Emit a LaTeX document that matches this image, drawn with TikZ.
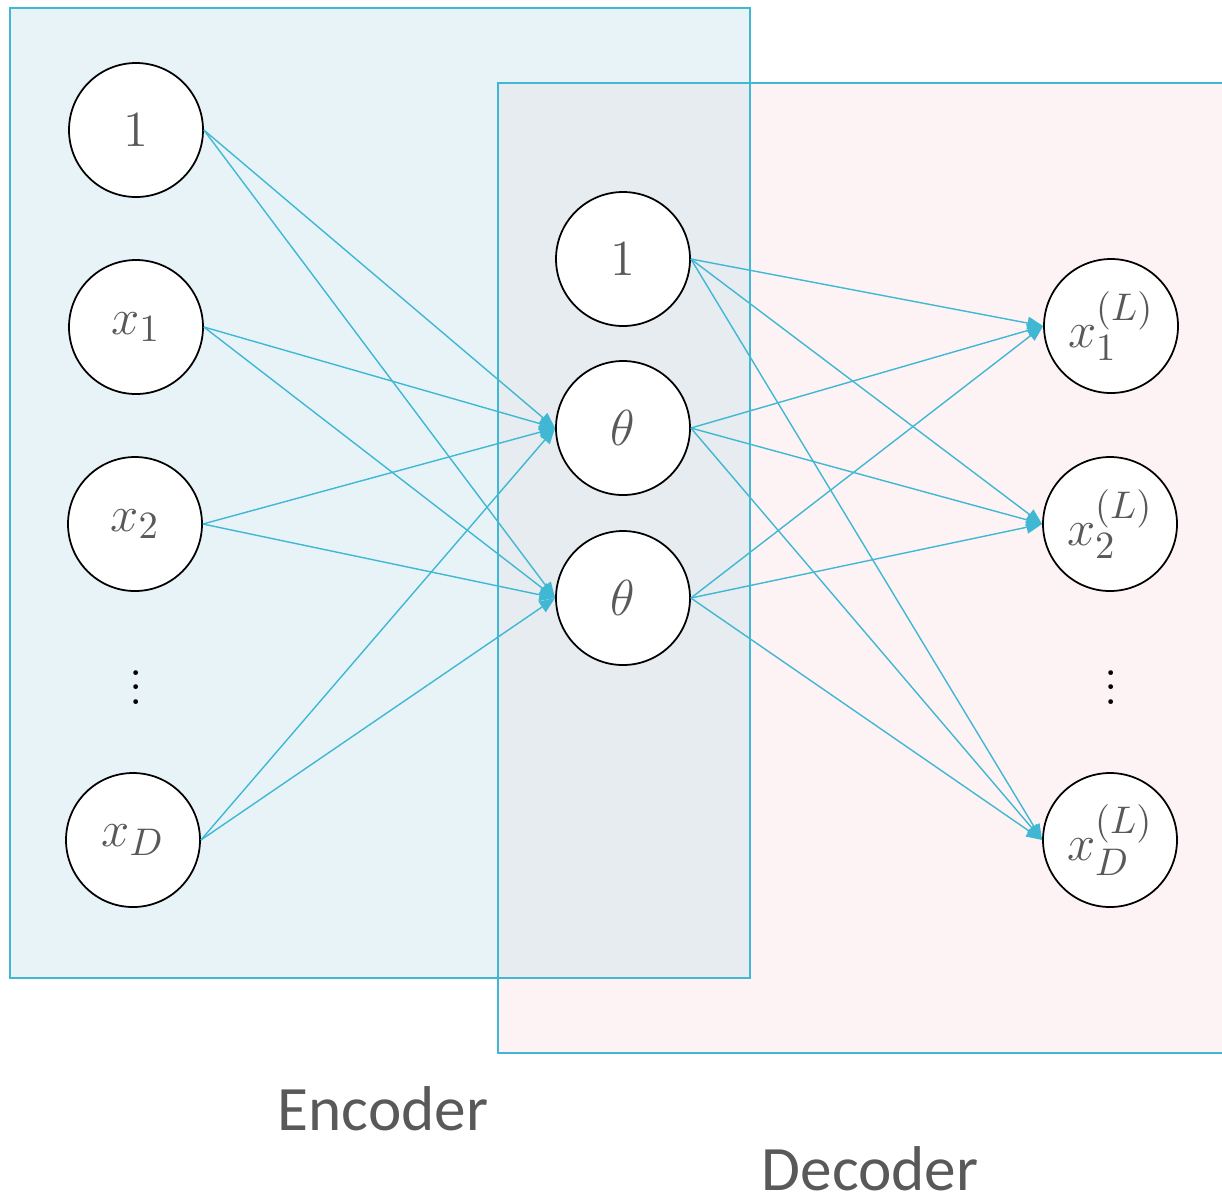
\documentclass[tikz,border=0pt]{standalone}
\usepackage{fontspec}
\usepackage{tikz}
\usetikzlibrary{arrows.meta, positioning}
\newfontfamily\etiqfont{Carlito}

\definecolor{cian}{RGB}{64,184,212}
\definecolor{fondoenc}{HTML}{E8F3F8}
\definecolor{fondodec}{HTML}{FDF3F4}
\definecolor{fondomix}{HTML}{E6ECF0}
\definecolor{gristexto}{HTML}{595959}

\tikzset{
  neurona/.style={circle, draw=black, line width=0.5pt, fill=white, minimum size=1.34cm, inner sep=0pt,
    text=gristexto, font=\fontsize{15}{17}\selectfont},
  puntos/.style={font=\fontsize{14}{16}\selectfont},
  conexion/.style={draw=cian, line width=0.4pt, -{Triangle[length=4.5pt, width=3.6pt]}},
  caja/.style={draw=cian, line width=0.6pt},
  etiqueta/.style={anchor=base, text=gristexto, font=\etiqfont\fontsize{18}{20}\selectfont}
}

\begin{document}
\begin{tikzpicture}
\useasboundingbox (0,0) rectangle (12.22,-12.00);
% Fondos de codificador y decodificador
\fill[fondoenc] (0.10,-0.08) rectangle (7.50,-9.78);
\fill[fondodec] (4.98,-0.83) rectangle (12.30,-10.53);
\fill[fondomix] (4.98,-0.83) rectangle (7.50,-9.78);
\draw[caja] (4.98,-0.83) rectangle (12.30,-10.53);
\draw[caja] (0.10,-0.08) rectangle (7.50,-9.78);
% Capa de entrada
\node[neurona] (i0) at (1.36,-1.30) {$1$};
\node[neurona] (i1) at (1.36,-3.27) {$x_1$};
\node[neurona] (i2) at (1.35,-5.24) {$x_2$};
\node[puntos] (ipts) at (1.36,-6.77) {$\vdots$};
\node[neurona] (iD) at (1.33,-8.40) {$x_D$};
% Capa oculta
\node[neurona] (h0) at (6.23,-2.59) {$1$};
\node[neurona] (h1) at (6.23,-4.28) {$\theta$};
\node[neurona] (h2) at (6.23,-5.98) {$\theta$};
% Capa de salida
\node[neurona] (o1) at (11.11,-3.26) {$x_1^{(L)}$};
\node[neurona] (o2) at (11.10,-5.24) {$x_2^{(L)}$};
\node[puntos] (opts) at (11.11,-6.77) {$\vdots$};
\node[neurona] (oD) at (11.10,-8.40) {$x_D^{(L)}$};
% Conexiones
\foreach \a in {i0,i1,i2,iD}
  \foreach \b in {h1,h2}
    \draw[conexion] (\a.east) -- (\b.west);
\foreach \a in {h0,h1,h2}
  \foreach \b in {o1,o2,oD}
    \draw[conexion] (\a.east) -- (\b.west);
% Rotulos
\node[etiqueta] (enc) at (3.83,-11.30) {Encoder};
\node[etiqueta] (dec) at (8.70,-11.90) {Decoder};
\end{tikzpicture}
\end{document}
